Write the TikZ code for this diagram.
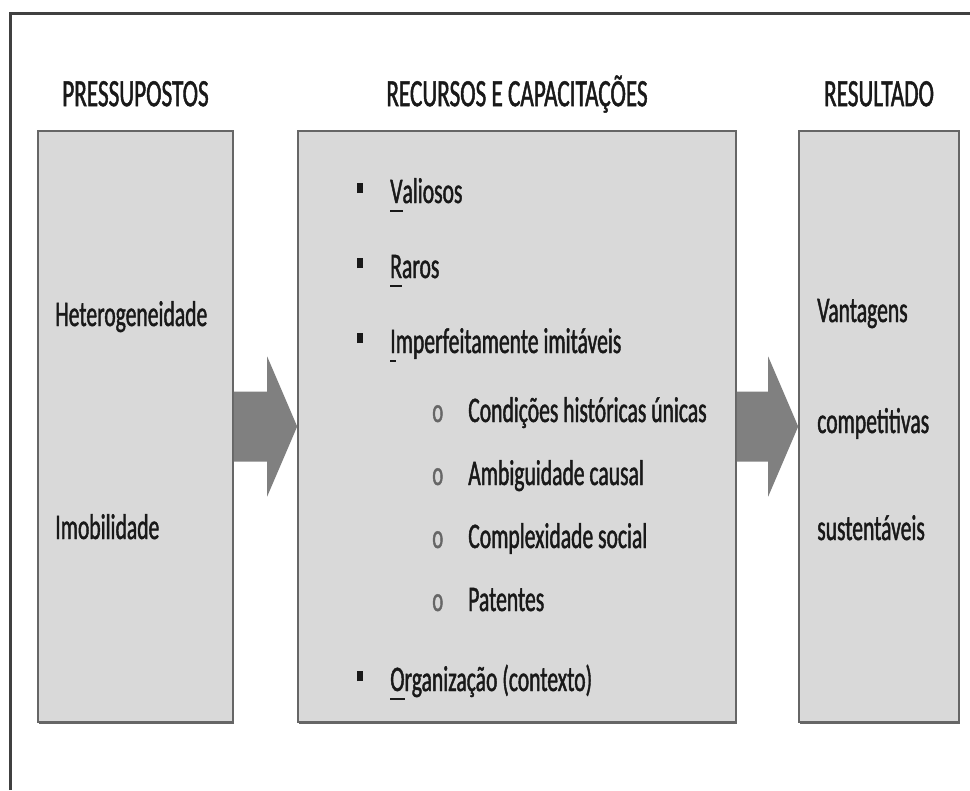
\documentclass[tikz,border=0pt]{standalone}
\usepackage{fontspec}
\setmainfont{Carlito}[FakeStretch=0.6,FakeBold=1.2]
\usetikzlibrary{positioning,calc,shadows}
\definecolor{boxgray}{RGB}{217,217,217}
\definecolor{arrowgray}{RGB}{128,128,128}
\definecolor{framegray}{RGB}{64,64,64}
\newcommand{\firstul}[1]{\setbox0\hbox{#1}\rlap{\rule[-7pt]{\wd0}{2pt}}\box0}
\newcommand{\sqbullet}{\makebox[24.75pt][l]{\rule[7.5pt]{4.5pt}{7.5pt}}}
\newcommand{\obullet}{\makebox[27pt][l]{\textcolor{black!60}{\fontsize{26}{26}\selectfont o}}}

\begin{document}
\begin{tikzpicture}[x=0.75pt,y=-0.75pt,
  box/.style={draw=black!60, line width=1.2pt, fill=boxgray, inner sep=0pt,
    minimum height=443.25pt,
    drop shadow={shadow xshift=0.4pt, shadow yshift=-1.6pt, fill=black!60, opacity=1}},
  head/.style={font=\fontsize{29}{34}\selectfont, text=black!90, inner sep=0pt},
  txt/.style={font=\fontsize{27}{32}\selectfont, text=black!90, inner sep=0pt, anchor=base west},
  bigarrow/.style={fill=arrowgray}]
\useasboundingbox (0,0) rectangle (970,790);
\draw[framegray, line width=2.25pt] (10,790) -- (10,13) -- (970,13);   % frame

\node[box, minimum width=146.25pt] (pres) at (135.5,426.5) {};
\node[box, minimum width=328.5pt] (recu) at (517,426.5) {};
\node[box, minimum width=120pt] (resu) at (879,426.5) {};   % boxes

\node[head, above=18pt of pres.north, anchor=base] (hpres) {PRESSUPOSTOS};
\node[head, above=18pt of recu.north, anchor=base] (hrecu) {RECURSOS E CAPACITAÇÕES};
\node[head, above=18pt of resu.north, anchor=base] (hresu) {RESULTADO};   % titles

\foreach \a/\b in {pres/recu, recu/resu}
  \fill[bigarrow] ($(\a.east)+(0,-35)$) -- ($(\b.west)+(-30,-35)$)
    -- ($(\b.west)+(-30,-70)$) -- (\b.west) -- ($(\b.west)+(-30,70)$)
    -- ($(\b.west)+(-30,35)$) -- ($(\a.east)+(0,35)$) -- cycle;   % arrows

\node[txt] (het) at (55,326) {Heterogeneidade};
\node[txt] (imo) at (55,539) {Imobilidade};

\foreach \y/\t [count=\i] in {203/{\sqbullet\firstul{V}aliosos},
    278/{\sqbullet\firstul{R}aros},
    353/{\sqbullet\firstul{I}mperfeitamente imitáveis},
    691/{\sqbullet\firstul{O}rganização (contexto)}}
  \node[txt] (item\i) at (357,\y) {\t};

\foreach \y/\t [count=\i] in {422/Condições históricas únicas,
    485/Ambiguidade causal, 548/Complexidade social, 611/Patentes}
  \node[txt] (sub\i) at (432,\y) {\obullet\t};

\node[txt] (van) at (817,322) {Vantagens};
\node[txt] (com) at (817,433) {competitivas};
\node[txt] (sus) at (817,540) {sustentáveis};
\end{tikzpicture}
\end{document}
